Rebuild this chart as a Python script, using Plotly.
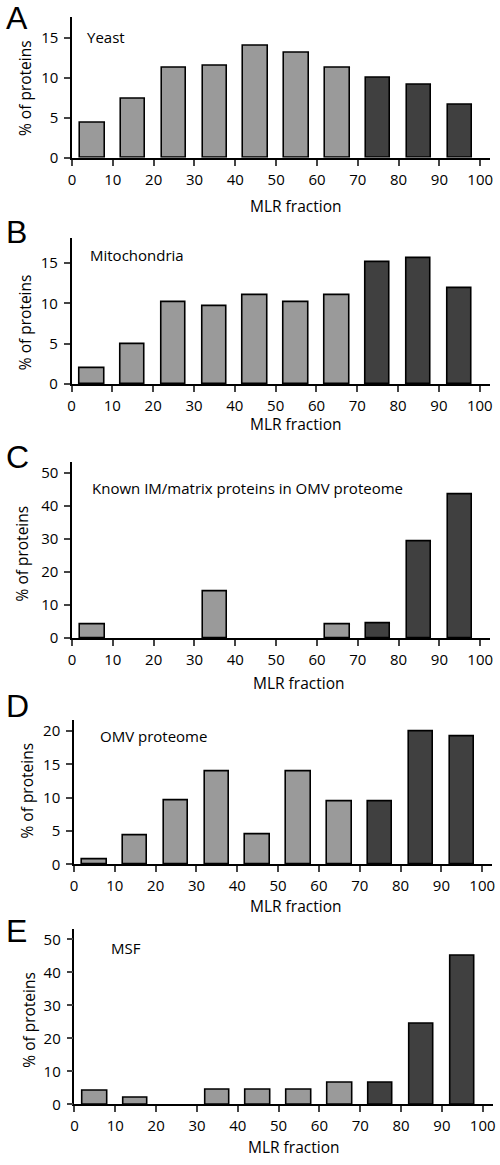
import plotly.graph_objects as go

fractions = [5, 15, 25, 35, 45, 55, 65, 75, 85, 95]
tick_vals = [0, 10, 20, 30, 40, 50, 60, 70, 80, 90, 100]

yeast = [4.3, 7.4, 11.2, 11.5, 14.0, 13.1, 11.2, 10.0, 9.1, 6.6]
mitochondria = [2.0, 5.0, 10.1, 9.7, 11.0, 10.2, 11.0, 15.1, 15.6, 11.9]
known_im = [4.2, 0, 0, 14.0, 0, 0, 4.2, 4.3, 29.2, 43.4]
omv = [0.8, 4.4, 9.6, 14.0, 4.5, 14.0, 9.4, 9.4, 19.9, 19.2]
msf = [4.1, 2.1, 0, 4.3, 4.3, 4.3, 6.6, 6.7, 24.3, 45.1]

panel_letters = ["A", "B", "C", "D", "E"]
panel_titles = ["Yeast", "Mitochondria", "Known IM/matrix proteins in OMV proteome",
                "OMV proteome", "MSF"]
series = [yeast, mitochondria, known_im, omv, msf]
y_ticks = [[0, 5, 10, 15], [0, 5, 10, 15], [0, 10, 20, 30, 40, 50],
           [0, 5, 10, 15, 20], [0, 10, 20, 30, 40, 50]]

LIGHT = "#9a9a9a"
DARK = "#404040"
colors = [LIGHT] * 7 + [DARK] * 3

W, H = 500, 1165
FONT = "Open Sans"
LETTER_FONT = "Liberation Sans"

# layout geometry (pixels)
left_px = [69, 68.5, 69, 71, 71.5]
top_px = [17, 240, 466, 726, 936]
bot_px = [159, 387, 643, 871, 1113]
y_max = [17.6, 18.1, 53.2, 21.6, 53.2]
px_per_unit = 4.14
x_max = 102.5

title_xy = [(82, 37), (85, 257), (87, 492), (95, 742), (106, 955)]
letter_y = [18, 234, 461, 712, 938]
xlab_xy = [(296, 208), (296, 427), (299, 688), (296, 913), (294, 1156)]
ylab_xy = [(22, 89), (22, 325), (18, 558), (23, 797), (25, 1028)]

fig = go.Figure()
annotations = []
layout = {}
for i in range(5):
    n = "" if i == 0 else str(i + 1)
    vals = series[i]
    fig.add_trace(go.Bar(
        x=fractions, y=vals, width=6,
        marker=dict(color=colors,
                    line=dict(color="black", width=[0 if v == 0 else 1.6 for v in vals])),
        xaxis="x" + n, yaxis="y" + n, showlegend=False,
    ))
    x0 = left_px[i] / W
    x1 = (left_px[i] + x_max * px_per_unit) / W
    y0 = 1 - bot_px[i] / H
    y1 = 1 - top_px[i] / H
    layout["xaxis" + n] = dict(
        domain=[x0, x1], range=[0, x_max], anchor="y" + n,
        tickvals=tick_vals, ticks="outside", ticklen=6, tickwidth=1.5,
        showline=True, linecolor="black", linewidth=1.5, showgrid=False,
        zeroline=False, tickfont=dict(family=FONT, size=15, color="black"),
        ticklabeloverflow="allow", ticklabelstandoff=1, fixedrange=True,
    )
    layout["yaxis" + n] = dict(
        domain=[y0, y1], range=[0, y_max[i]], anchor="x" + n,
        tickvals=y_ticks[i], ticks="outside", ticklen=6, tickwidth=1.5,
        showline=True, linecolor="black", linewidth=1.5, showgrid=False,
        zeroline=False, tickfont=dict(family=FONT, size=15, color="black"),
        ticklabeloverflow="allow", ticklabelstandoff=3, fixedrange=True,
    )
    annotations.append(dict(
        text=panel_letters[i], x=1 / W, y=1 - letter_y[i] / H, xref="paper", yref="paper",
        xanchor="left", yanchor="middle", showarrow=False, borderpad=0,
        font=dict(family=LETTER_FONT, size=32, color="black"),
    ))
    annotations.append(dict(
        text=panel_titles[i], x=title_xy[i][0] / W, y=1 - title_xy[i][1] / H,
        xref="paper", yref="paper", xanchor="left", yanchor="middle", showarrow=False,
        font=dict(family=FONT, size=15, color="black"),
    ))
    annotations.append(dict(
        text="MLR fraction", x=xlab_xy[i][0] / W, y=1 - xlab_xy[i][1] / H,
        xref="paper", yref="paper", xanchor="center", yanchor="middle", showarrow=False,
        borderpad=0, font=dict(family=FONT, size=15.5, color="black"),
    ))
    annotations.append(dict(
        text="% of proteins", x=ylab_xy[i][0] / W, y=1 - ylab_xy[i][1] / H,
        xref="paper", yref="paper", xanchor="center", yanchor="middle", showarrow=False,
        textangle=-90, font=dict(family=FONT, size=15.5, color="black"),
    ))

fig.update_layout(
    width=W, height=H, margin=dict(l=0, r=0, t=0, b=0),
    paper_bgcolor="white", plot_bgcolor="white",
    annotations=annotations, bargap=0, **layout,
)
fig.write_html("out.html", config={"displayModeBar": False},
               post_script="document.body.style.margin='0';document.body.style.overflow='hidden';")
